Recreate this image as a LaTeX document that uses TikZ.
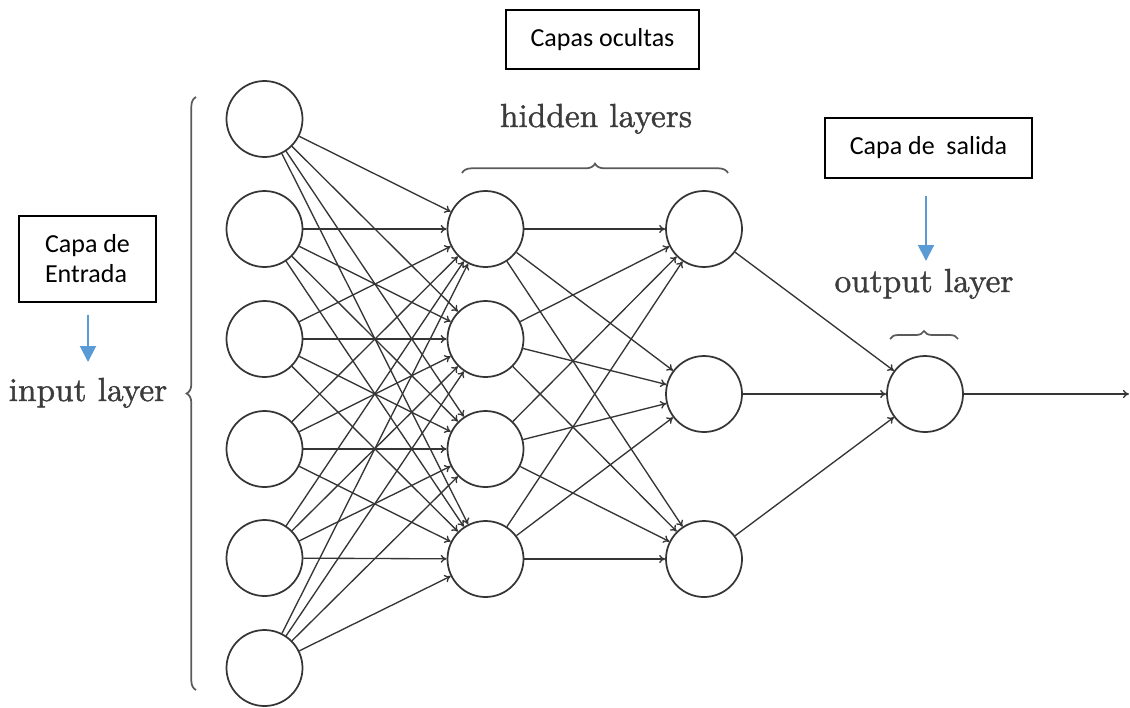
\documentclass[tikz,border=0pt]{standalone}
\usepackage{fontspec}
\newfontfamily\boxfont{Carlito}
\newfontfamily\labelfont{lmroman10-regular.otf}[FakeBold=1.2]
\usetikzlibrary{arrows.meta,decorations.pathreplacing}
\definecolor{netgray}{HTML}{353535}
\definecolor{labgray}{HTML}{3C3C3C}
\definecolor{bracegray}{HTML}{5A5A5A}
\definecolor{officeblue}{HTML}{5B9BD5}
\begin{document}
\begin{tikzpicture}[x=0.75pt,y=-0.75pt,
  neuron/.style={circle,draw=netgray,line width=1.3pt,minimum size=57pt,inner sep=0pt,fill=white},
  conn/.style={draw=netgray,line width=1pt,-{To[length=4.5pt,width=6pt]}},
  layerlabel/.style={text=labgray,font=\labelfont\fontsize{25}{29}\selectfont,anchor=base,inner sep=0pt},
  layerbrace/.style={draw=bracegray,line width=1.3pt,decorate,decoration={brace,amplitude=#1}},
  callout/.style={draw=black,line width=0.8pt,font=\boxfont\fontsize{19.5}{22.5}\selectfont,inner sep=0pt},
  bluearrow/.style={draw=officeblue,line width=1.5pt,-{Triangle[length=12pt,width=12pt]}}]
\useasboundingbox[fill=white] (0,0) rectangle (1130,707);

% input layer
\foreach \k/\y in {1/119,2/229,3/339,4/449,5/558,6/668}
  \node[neuron] (i\k) at (264.5,\y) {};
% first hidden layer
\foreach \k/\y in {1/229,2/339,3/449,4/559}
  \node[neuron] (h\k) at (485.5,\y) {};
% second hidden layer
\foreach \k/\y in {1/229,2/394,3/559}
  \node[neuron] (g\k) at (704,\y) {};
% output neuron
\node[neuron] (o) at (925,394) {};
\coordinate (out) at (1129,394);

% weighted connections
\foreach \a in {1,...,6}
  \foreach \b in {1,...,4}
    \draw[conn] (i\a) -- (h\b);
\foreach \a in {1,...,4}
  \foreach \b in {1,...,3}
    \draw[conn] (h\a) -- (g\b);
\foreach \a in {1,...,3}
  \draw[conn] (g\a) -- (o);
\draw[conn] (o) -- (out);

% layer braces
\coordinate (inbraceA) at (196,690);
\coordinate (inbraceB) at (196,97);
\draw[layerbrace=7pt] (inbraceA) -- (inbraceB);
\coordinate (hidbraceA) at (462,173);
\coordinate (hidbraceB) at (728,173);
\draw[layerbrace=7pt] (hidbraceA) -- (hidbraceB);
\coordinate (outbraceA) at (890,339);
\coordinate (outbraceB) at (958,339);
\draw[layerbrace=6pt] (outbraceA) -- (outbraceB);

% layer names
\node[layerlabel] (inlabel) at (88,401) {input layer};
\node[layerlabel] (hidlabel) at (596,127) {hidden layers};
\node[layerlabel] (outlabel) at (924,292) {output layer};

% Spanish callouts
\node[callout,minimum width=102.75pt,minimum height=64.5pt,align=left] (entrada) at (87.5,259) {Capa de\\Entrada};
\node[callout,minimum width=144.75pt,minimum height=44.25pt] (ocultas) at (602.5,39.5) {Capas ocultas};
\node[callout,minimum width=155.25pt,minimum height=45pt] (salida) at (928.5,148) {Capa de\hspace{0.45em}salida};

\coordinate (entradaTip) at (88,362);
\coordinate (salidaTip) at (926,261);
\draw[bluearrow] ([yshift=-9pt]entrada.south -| entradaTip) -- (entradaTip);
\draw[bluearrow] ([yshift=-12.75pt]salida.south -| salidaTip) -- (salidaTip);
\end{tikzpicture}
\end{document}
